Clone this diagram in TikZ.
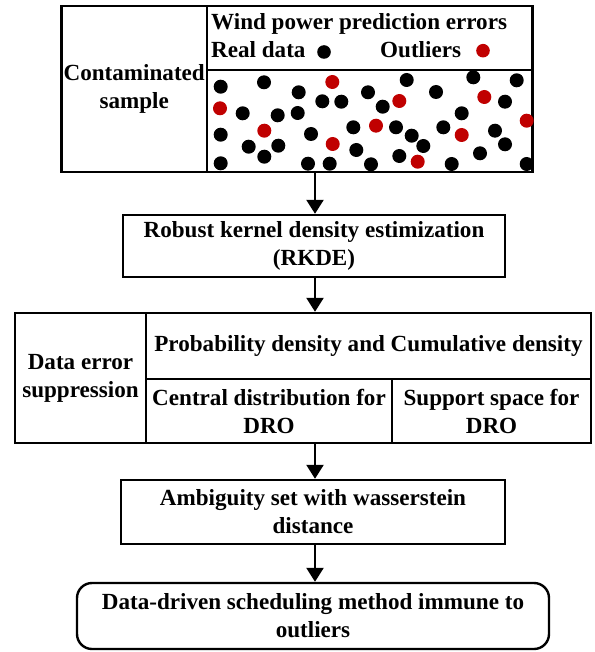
\documentclass[tikz,border=0pt]{standalone}
\usepackage{fontspec}
\setmainfont{Liberation Serif}
\usetikzlibrary{arrows.meta,calc}
\definecolor{outred}{HTML}{C00000}
\begin{document}
\begin{tikzpicture}[x=1pt,y=-1pt,
  lbl/.style={font=\bfseries\fontsize{23.1}{28}\selectfont},
  box/.style={draw,line width=2.4pt,inner sep=0pt,align=center,lbl},
  txt/.style={inner sep=0pt,anchor=base west,lbl},
  flow/.style={line width=2.4pt,-{Triangle[length=14pt,width=17pt]}},
  bdot/.style={fill=black},
  rdot/.style={fill=outred}]
\useasboundingbox (0,0) rectangle (594,652);

% top group
\node[box,minimum width=145.5pt,minimum height=166pt] (cont) at (134.25,89) {Contaminated\\sample};
\node[box,minimum width=325.5pt,minimum height=64pt] (wind) at (369.75,38) {};
\node[box,minimum width=325.5pt,minimum height=102pt] (dots) at (369.75,121) {};
\node[txt] (wtitle) at (211,30) {Wind power prediction errors};
\node[txt] (wreal) at (211,58) {Real data};
\node[txt] (wout) at (380,58) {Outliers};
\fill[bdot] (324,52) circle (6.8pt);
\fill[rdot] (483,50.7) circle (6.8pt);

% sample dots
\foreach \p in {(220.7,86.7),(264,82.3),(298.7,92.3),(322.3,101.3),(341.3,101.7),(368,92.3),(242.7,113.3),(277.7,115.3),(297.7,113),(220.7,134.7),(311,134),(353.3,127.3),(248.7,146.7),(278.3,145.7),(264.3,156.7),(356.3,150),(220.7,163.3),(308,163.7),(329.7,163.7),(371,164.3),(406.7,80),(473.3,77.3),(516.7,80.3),(436,92),(382.7,106.7),(505,101.7),(461.7,113.3),(396,127.3),(411.7,135.7),(423.3,146),(443.3,127.3),(495,130.7),(505,144.3),(399.3,156),(451.7,164),(480,153.3),(526.7,164)}
  \fill[bdot] \p circle (7pt);
\foreach \p in {(332.3,82),(220,108.3),(264.3,130.7),(332.7,144),(399.3,101),(484.3,97),(526.7,120.7),(376,125.7),(461.7,135),(417.7,161.7)}
  \fill[rdot] \p circle (7pt);

% RKDE
\node[box,minimum width=382pt,minimum height=62pt] (rkde) at (314,246) {Robust kernel density estimization\\(RKDE)};

% data error suppression group
\node[box,minimum width=131pt,minimum height=130pt] (derr) at (80.5,378) {Data error\\suppression};
\node[box,minimum width=445pt,minimum height=66pt] (prob) at (368.5,346) {Probability density and Cumulative density};
\node[box,minimum width=246pt,minimum height=64pt] (central) at (269,411) {Central distribution for\\DRO};
\node[box,minimum width=199pt,minimum height=64pt] (support) at (491.5,411) {Support space for\\DRO};

% ambiguity set
\node[box,minimum width=384pt,minimum height=64pt] (amb) at (313,512) {Ambiguity set with wasserstein\\distance};

% final
\node[box,rounded corners=15pt,minimum width=472pt,minimum height=66pt] (final) at (313,616) {Data-driven scheduling method immune to\\outliers};

% arrows
\coordinate (ax) at (315,0);
\draw[flow] (ax |- dots.south) -- (ax |- rkde.north);
\draw[flow] (ax |- rkde.south) -- (ax |- prob.north);
\draw[flow] (ax |- central.south) -- (ax |- amb.north);
\draw[flow] (ax |- amb.south) -- (ax |- final.north);
\end{tikzpicture}
\end{document}
